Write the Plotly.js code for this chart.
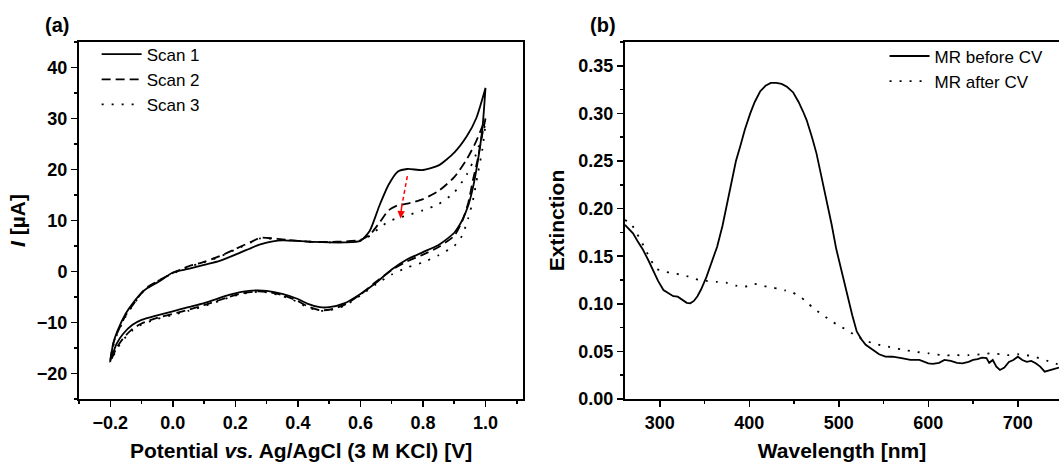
<!DOCTYPE html>
<html>
<head>
<meta charset="utf-8">
<script src="https://cdn.plot.ly/plotly-3.0.1.min.js"></script>
<style>html,body{margin:0;padding:0;background:#fff}#chart{width:1059px;height:464px}</style>
</head>
<body>
<div id="chart"></div>
<script>
// ---------- Panel (a): cyclic voltammetry ----------
const fwdV = [-0.2,-0.19,-0.178,-0.15,-0.125,-0.1,-0.08,-0.04,0,0.05,0.1,0.15,0.2,0.25,0.28,0.32,0.35,0.4,0.45,0.5,0.55,0.6,0.63,0.66,0.69,0.72,0.75,0.8,0.85,0.9,0.94,0.97,1.0];
const revV = [1.0,0.99,0.975,0.96,0.945,0.925,0.9,0.85,0.8,0.75,0.7,0.65,0.6,0.55,0.5,0.47,0.43,0.4,0.35,0.3,0.27,0.22,0.18,0.1,0.05,0,-0.05,-0.1,-0.13,-0.16,-0.18,-0.2];

const scan1Fwd = [-17.5,-14,-11.8,-8.2,-6.0,-4.2,-3.2,-1.8,-0.2,0.5,1.3,2.1,3.3,4.6,5.3,5.9,6.1,6.0,5.8,5.7,5.7,6.0,8.0,12.8,17.0,19.6,20.1,19.9,20.8,23.3,26.5,30,36];
const scan1Rev = [36,28,21.5,16.5,13,10,7.6,5.2,3.8,2.4,0.4,-2.2,-4.4,-6.2,-7.0,-7.0,-6.3,-5.4,-4.4,-3.8,-3.7,-4.0,-4.6,-6.2,-7.0,-7.8,-8.6,-9.5,-10.5,-12.3,-14.2,-17.5];
const scan2Fwd = [-17.5,-14,-12.1,-8.5,-6.3,-4.2,-3.0,-1.6,-0.3,1.0,1.9,3.0,4.4,5.8,6.6,6.5,6.3,6.0,5.8,5.8,5.9,6.2,7.2,9.5,12.0,13.0,13.3,14.2,15.8,18.5,22,25.5,30];
const scan2Rev = [30,27,22,18,13.5,9.8,7,4.8,3.3,2.0,0.3,-2,-4.5,-6.5,-7.5,-7.6,-6.8,-5.8,-4.6,-4.0,-3.9,-4.3,-5.0,-6.6,-7.5,-8.3,-9.1,-10.2,-11.3,-13.2,-15,-17.8];
const scan3Fwd = [-17.8,-14.5,-12.3,-8.7,-6.4,-4.3,-3.1,-1.6,-0.4,0.9,1.8,2.9,4.3,5.7,6.5,6.4,6.2,6.0,5.8,5.7,5.8,6.1,7.0,8.5,9.8,10.5,11,12,13.2,15.5,19,23,29];
const scan3Rev = [29,24,19,14,10.5,7,5,3.2,1.8,0.8,-0.6,-2.5,-4.7,-6.7,-7.6,-7.7,-7.0,-6.0,-4.8,-4.1,-4.0,-4.4,-5.1,-6.8,-7.7,-8.5,-9.3,-10.4,-11.6,-13.5,-15.3,-17.8];
const scanNames = ["Scan 1","Scan 2","Scan 3"];
const arrowFrom = [0.75, 18.7];
const arrowTo = [0.728, 10.4];

// ---------- Panel (b): extinction spectra ----------
const wlBefore = [261,265,270,275,281,287,292,298,304,310,315,320,325,330,334,338,342,346,352,358,364,370,378,385,390,395,401,406,412,418,424,430,436,442,449,455,460,464,470,475,480,486,492,497,503,509,515,520,525,530,538,545,552,560,570,580,590,600,605,612,618,625,632,638,645,650,655,660,665,668,672,676,680,685,690,695,700,705,710,715,720,725,730,735,740,746];
const extBefore = [0.183,0.179,0.174,0.166,0.157,0.146,0.136,0.124,0.1145,0.111,0.108,0.1075,0.104,0.101,0.1005,0.103,0.108,0.115,0.128,0.143,0.160,0.182,0.219,0.250,0.266,0.283,0.300,0.312,0.323,0.329,0.332,0.332,0.331,0.328,0.322,0.312,0.302,0.293,0.275,0.258,0.236,0.211,0.183,0.158,0.134,0.110,0.088,0.071,0.063,0.057,0.0515,0.047,0.0445,0.0444,0.043,0.041,0.041,0.0375,0.037,0.038,0.041,0.040,0.038,0.0375,0.039,0.041,0.042,0.0435,0.043,0.038,0.041,0.034,0.0305,0.033,0.039,0.041,0.0444,0.041,0.039,0.040,0.0375,0.034,0.0287,0.030,0.032,0.033];
const wlAfter = [261,267,273,279,285,290,296,304,315,327,340,352,364,375,385,395,405,415,425,432,440,448,456,464,472,481,490,500,509,518,528,540,555,570,585,600,615,630,645,660,670,680,690,700,710,720,730,740,746];
const extAfter = [0.188,0.185,0.176,0.166,0.155,0.146,0.137,0.134,0.132,0.130,0.126,0.124,0.123,0.122,0.119,0.118,0.121,0.119,0.117,0.116,0.114,0.112,0.108,0.102,0.095,0.089,0.083,0.077,0.0725,0.067,0.062,0.058,0.055,0.052,0.0497,0.048,0.046,0.046,0.046,0.047,0.048,0.047,0.046,0.047,0.046,0.044,0.041,0.038,0.036];
const specNames = ["MR before CV","MR after CV"];

const FONT = "Liberation Sans, Arial, sans-serif";
const dashes = ["solid","9px,5px","2px,8px"];
const fwdAll = [scan1Fwd, scan2Fwd, scan3Fwd];
const revAll = [scan1Rev, scan2Rev, scan3Rev];

const traces = [];
for (let k = 0; k < 3; k++) {
  traces.push({
    x: fwdV.concat(revV), y: fwdAll[k].concat(revAll[k]),
    type: "scatter", mode: "lines", name: scanNames[k],
    line: {color: "black", width: 1.8, dash: dashes[k], shape: "spline", smoothing: 0.6},
    xaxis: "x", yaxis: "y", legend: "legend"
  });
}
traces.push({x: wlBefore, y: extBefore, type: "scatter", mode: "lines", name: specNames[0],
  line: {color: "black", width: 1.8, dash: "solid"}, xaxis: "x2", yaxis: "y2", legend: "legend2"});
traces.push({x: wlAfter, y: extAfter, type: "scatter", mode: "lines", name: specNames[1],
  line: {color: "black", width: 1.8, dash: "2px,8px", shape: "spline", smoothing: 0.6}, xaxis: "x2", yaxis: "y2", legend: "legend2"});

const tickFont = {family: FONT, size: 18, color: "black", weight: "bold"};
const titleFont = {family: FONT, size: 21, color: "black", weight: "bold"};
const axBase = {showgrid: false, zeroline: false, showline: true, linecolor: "black", linewidth: 2,
  ticks: "outside", ticklen: 6, tickwidth: 1.5, tickcolor: "black", tickfont: tickFont};

const layout = {
  width: 1059, height: 464,
  margin: {l: 79, r: 0, t: 42, b: 65},
  paper_bgcolor: "white", plot_bgcolor: "white",
  showlegend: true,
  xaxis: Object.assign({}, axBase, {domain: [0, 0.4531], range: [-0.3, 1.12], dtick: 0.2, tick0: 0, tickformat: ".1f", mirror: true,
    minor: {ticks: "outside", ticklen: 3, dtick: 0.1, tick0: 0, tickcolor: "black", tickwidth: 1.5},
    title: {text: "Potential <i>vs.</i> Ag/AgCl (3 M KCl) [V]", font: titleFont, standoff: 12}}),
  yaxis: Object.assign({}, axBase, {domain: [0, 1], range: [-25, 45], dtick: 10, mirror: true,
    minor: {ticks: "outside", ticklen: 3, dtick: 5, tick0: 0, tickcolor: "black", tickwidth: 1.5},
    title: {text: "<i>I</i> [µA]", font: titleFont, standoff: 6}}),
  xaxis2: Object.assign({}, axBase, {domain: [0.5571, 1], range: [261, 746], dtick: 100, tick0: 0, mirror: true, anchor: "y2",
    minor: {ticks: "outside", ticklen: 3, dtick: 50, tick0: 0, tickcolor: "black", tickwidth: 1.5},
    title: {text: "Wavelength [nm]", font: titleFont, standoff: 12}}),
  yaxis2: Object.assign({}, axBase, {domain: [0, 1], range: [0, 0.375], dtick: 0.05, tickformat: ".2f", mirror: false, anchor: "x2",
    minor: {ticks: "outside", ticklen: 3, dtick: 0.025, tick0: 0, tickcolor: "black", tickwidth: 1.5},
    title: {text: "Extinction", font: titleFont, standoff: 8}}),
  legend: {x: 0.018, y: 1.015, xanchor: "left", yanchor: "top", bgcolor: "rgba(0,0,0,0)", itemwidth: 40,
    font: {family: FONT, size: 17, color: "black"}, tracegroupgap: 0},
  legend2: {x: 0.822, y: 1.01, xanchor: "left", yanchor: "top", bgcolor: "rgba(0,0,0,0)", itemwidth: 40,
    font: {family: FONT, size: 17, color: "black"}, tracegroupgap: 0},
  shapes: [{type: "line", xref: "x", yref: "y", x0: arrowFrom[0], y0: arrowFrom[1], x1: arrowTo[0] + 0.003, y1: arrowTo[1] + 2,
    line: {color: "red", width: 1.5, dash: "4px,3px"}}],
  annotations: [
    {x: arrowTo[0], y: arrowTo[1], ax: arrowTo[0] + 0.004, ay: arrowTo[1] + 2.5, xref: "x", yref: "y", axref: "x", ayref: "y",
     showarrow: true, arrowhead: 2, arrowsize: 1, arrowwidth: 1.5, arrowcolor: "red", text: ""},
    {text: "(a)", xref: "paper", yref: "paper", x: (43 - 79) / 980, y: 1 + (42 - 25) / 357, xanchor: "left", yanchor: "middle",
     showarrow: false, font: {family: FONT, size: 20, color: "black", weight: "bold"}},
    {text: "(b)", xref: "paper", yref: "paper", x: (588 - 79) / 980, y: 1 + (42 - 25) / 357, xanchor: "left", yanchor: "middle",
     showarrow: false, font: {family: FONT, size: 20, color: "black", weight: "bold"}}
  ]
};

Plotly.newPlot("chart", traces, layout, {displayModeBar: false, staticPlot: true});
</script>
</body>
</html>
